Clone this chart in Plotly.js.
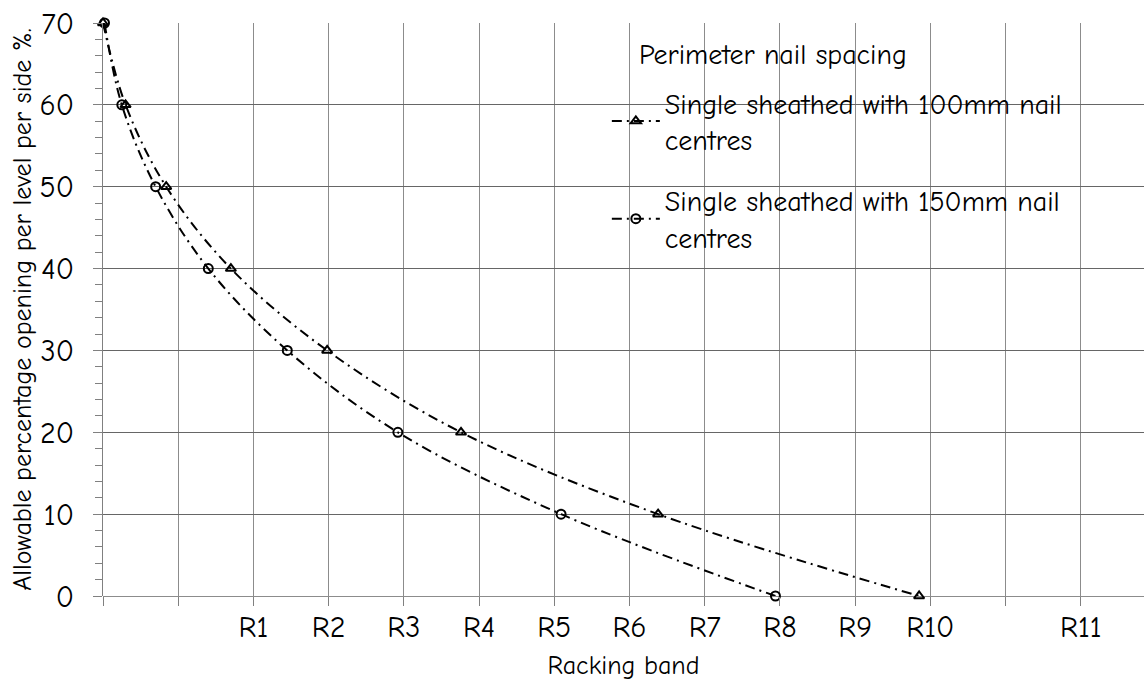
<!DOCTYPE html>
<html>
<head>
<meta charset="utf-8">
<script src="https://cdn.plot.ly/plotly-3.0.1.min.js"></script>
<style>html,body{margin:0;padding:0;background:#fff;}#chart{width:1144px;height:684px;}</style>
</head>
<body>
<div id="chart"></div>
<script>
var percentOpening = [70, 60, 50, 40, 30, 20, 10, 0];
var band100mm = [0.0, 0.30, 0.84, 1.70, 2.98, 4.76, 7.38, 10.85];
var band150mm = [0.02, 0.25, 0.70, 1.40, 2.45, 3.92, 6.09, 8.94];
var tickPositions = [0, 1, 2, 3, 4, 5, 6, 7, 8, 9, 10, 11, 12, 13];
var tickLabels = ["", "", "R1", "R2", "R3", "R4", "R5", "R6", "R7", "R8", "R9", "R10", "", "R11"];
var seriesNames = ["Single sheathed with 100mm nail<br>centres", "Single sheathed with 150mm nail<br>centres"];
var legendTitle = "Perimeter nail spacing";

var FONT = "'Comic Sans MS', 'Comic Neue', Lato, 'DejaVu Sans', sans-serif";
var FS = 26;
var dash = "10px,5px,2px,5px";

var traces = [
  {
    x: band100mm, y: percentOpening, name: seriesNames[0], legendgroup: "a",
    mode: "lines+markers", type: "scatter", cliponaxis: false,
    line: {color: "#000", width: 2, dash: dash, shape: "spline", smoothing: 1},
    marker: {symbol: "triangle-up-open", size: 9, color: "#000", line: {width: 2, color: "#000"}}
  },
  {
    x: band150mm, y: percentOpening, name: seriesNames[1], legendgroup: "b",
    mode: "lines+markers", type: "scatter", cliponaxis: false,
    line: {color: "#000", width: 2, dash: dash, shape: "spline", smoothing: 1},
    marker: {symbol: "circle-open", size: 9, color: "#000", line: {width: 2, color: "#000"}}
  }
];

var layout = {
  width: 1144, height: 684,
  margin: {l: 103, r: 0, t: 23, b: 88},
  paper_bgcolor: "#fff", plot_bgcolor: "#fff",
  font: {family: FONT, size: FS, color: "#000"},
  showlegend: true,
  legend: {
    x: 0.484, xanchor: "left", y: 0.904, yanchor: "top",
    bgcolor: "rgba(255,255,255,0)", borderwidth: 0,
    font: {family: FONT, size: 28, color: "#000"},
    tracegroupgap: 22, itemwidth: 48
  },
  shapes: [
    {type: "rect", xref: "paper", yref: "paper", x0: 0.4707, x1: 0.9376, y0: 0.569, y1: 0.996,
     fillcolor: "#fff", line: {width: 0}, layer: "between"}
  ],
  annotations: [
    {text: legendTitle, xref: "paper", yref: "paper", x: 0.513, y: 0.944,
     xanchor: "left", yanchor: "middle", showarrow: false,
     font: {family: FONT, size: 28, color: "#000"}}
  ],
  xaxis: {
    range: [0, 13.84], autorange: false,
    tickmode: "array", tickvals: tickPositions, ticktext: tickLabels,
    ticks: "outside", ticklen: 9, tickcolor: "#808080", tickwidth: 1,
    ticklabelstandoff: -5,
    showgrid: true, gridcolor: "#8c8c8c", gridwidth: 1,
    showline: false, zeroline: false,
    tickfont: {family: FONT, size: 30, color: "#000"},
    title: {text: "Racking band", font: {family: FONT, size: FS, color: "#000"}, standoff: 11}
  },
  yaxis: {
    range: [0, 70], autorange: false,
    tickmode: "linear", tick0: 0, dtick: 10,
    ticks: "outside", ticklen: 9, tickcolor: "#808080", tickwidth: 1,
    ticklabelstandoff: 13,
    minor: {dtick: 2, ticks: "outside", ticklen: 7, tickcolor: "#808080", showgrid: false},
    showgrid: true, gridcolor: "#666", gridwidth: 1,
    showline: true, linecolor: "#808080", linewidth: 1,
    zeroline: true, zerolinecolor: "#8c8c8c", zerolinewidth: 1,
    tickfont: {family: FONT, size: 30, color: "#000"},
    title: {text: "Allowable percentage opening per level per side %.", font: {family: FONT, size: FS, color: "#000"}, standoff: 0}
  }
};

Plotly.newPlot("chart", traces, layout, {displayModeBar: false, staticPlot: true});
</script>
</body>
</html>
